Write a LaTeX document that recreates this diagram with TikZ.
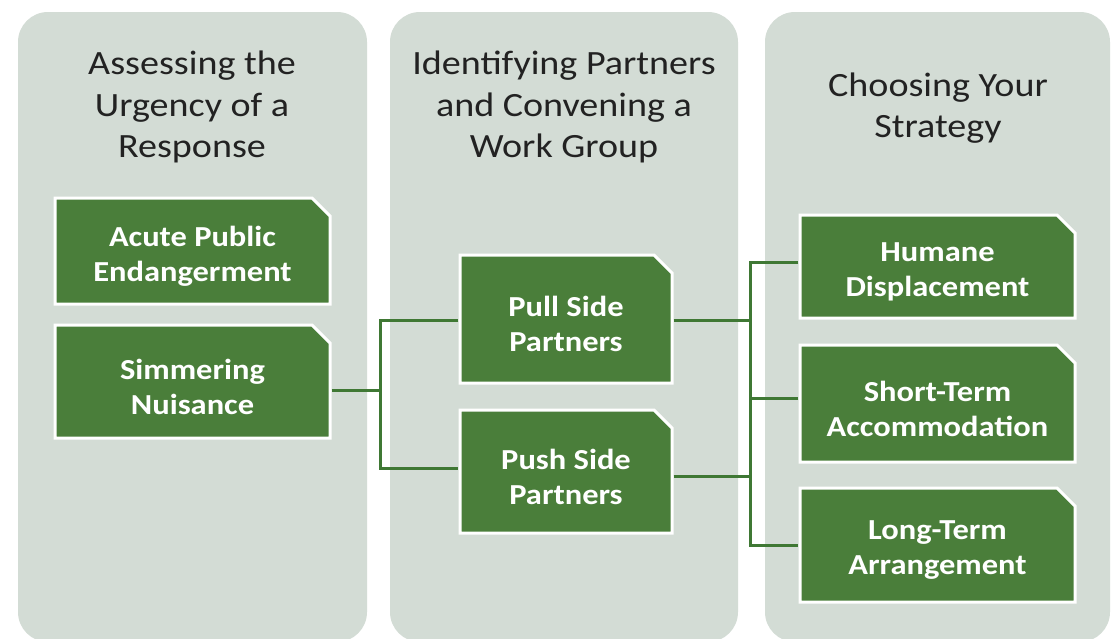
\documentclass[tikz,border=0pt]{standalone}
\usepackage{fontspec}
\setmainfont{Carlito}[FakeStretch=1.12]
\definecolor{panelgray}{HTML}{D3DCD5}
\definecolor{boxgreen}{HTML}{4A7E3A}
\definecolor{linegreen}{HTML}{3F7834}
\definecolor{headtext}{HTML}{222222}
\tikzset{
  panel/.style={fill=panelgray, rounded corners=30pt},
  heading/.style={align=center, text=headtext, inner sep=0pt, font=\fontsize{34}{41.5}\selectfont},
  boxtext/.style={align=center, text=white, inner sep=0pt, font=\bfseries\fontsize{29}{35}\selectfont},
  boxshape/.style={fill=boxgreen, draw=white, line width=3pt},
  conn/.style={draw=linegreen, line width=3pt},
}
% name, x1, y1, x2, y2, text  (text node centred 5px below the shape centre)
\newcommand{\greenbox}[6]{%
  \draw[boxshape] (#2,#5) -- (#2,#3) -- (#4-18,#3) -- (#4,#3+18) -- (#4,#5) -- cycle;
  \node[boxtext, minimum width={#4pt-#2pt}, minimum height={#5pt-#3pt}] (#1) at ({(#2+#4)/2},{(#3+#5)/2+5}) {#6};%
}
\begin{document}
\begin{tikzpicture}[x=1pt,y=-1pt]
\useasboundingbox (0,0) rectangle (1112,638);
\begin{scope}
\clip (0,0) rectangle (1112,638);
\fill[white] (0,0) rectangle (1112,638);
\path[panel] (18,12) rectangle (367,642);
\path[panel] (390,12) rectangle (738,642);
\path[panel] (765,12) rectangle (1110,642);
\end{scope}

\node[heading] (h1) at (192,107) {Assessing the\\Urgency of a\\Response};
\node[heading] (h2) at (564,107) {Identifying Partners\\and Convening a\\Work Group};
\node[heading] (h3) at (938,108) {Choosing Your\\Strategy};

\coordinate (jl) at (380,390);
\coordinate (jr) at (750,400);

\greenbox{acute}{55}{198}{330}{304}{Acute Public\\Endangerment}
\greenbox{simmer}{55}{325}{330}{438}{Simmering\\Nuisance}
\greenbox{pull}{460}{255}{672}{383}{Pull Side\\Partners}
\greenbox{push}{460}{410}{672}{533}{Push Side\\Partners}
\greenbox{humane}{800}{215}{1075}{318}{Humane\\Displacement}
\greenbox{short}{800}{345}{1075}{462}{Short-Term\\Accommodation}
\greenbox{long}{800}{488}{1075}{602}{Long-Term\\Arrangement}

\draw[conn] ([xshift=1.5pt,yshift=-3.5pt]simmer.east) -- (jl);
\draw[conn] ([xshift=-1.5pt,yshift=4pt]pull.west) -| (jl) |- ([xshift=-1.5pt,yshift=8.5pt]push.west);
\draw[conn] ([xshift=1.5pt,yshift=4pt]pull.east) -| (jr);
\draw[conn] ([xshift=1.5pt]push.east) -| (jr);
\draw[conn] ([xshift=-1.5pt,yshift=9.5pt]humane.west) -| (jr) |- ([xshift=-1.5pt,yshift=5pt]long.west);
\draw[conn] ([xshift=-1.5pt,yshift=10.5pt]short.west) -| (jr);
\end{tikzpicture}
\end{document}
